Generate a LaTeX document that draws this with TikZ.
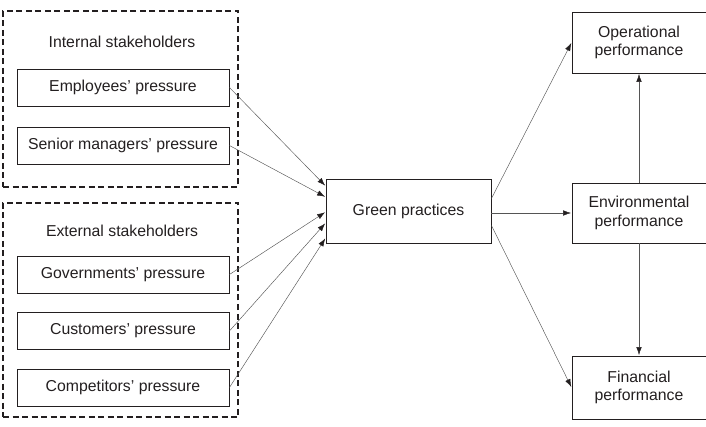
\documentclass[tikz,border=0pt]{standalone}
\usepackage{fontspec}
\setmainfont{Liberation Sans}
\usetikzlibrary{positioning,arrows.meta}
\definecolor{txtgray}{HTML}{231F20}
\definecolor{linegray}{HTML}{555555}

\begin{document}
\begin{tikzpicture}[x=1pt,y=1pt,auto]
    \tikzstyle{every node}=[font=\fontsize{15.8}{18.6}\selectfont,text=txtgray,inner sep=0]
    \tikzstyle{group}=[draw=txtgray,rectangle,line width=1.3pt,dash pattern=on 6pt off 3.5pt]
    \tikzstyle{note}=[draw=none,fill=none]
    \tikzstyle{pbox}=[draw=txtgray,rectangle,line width=0.9pt,minimum width=212,minimum height=37]
    \tikzstyle{rbox}=[draw=txtgray,rectangle,line width=0.9pt,minimum width=134,align=center]
    \tikzstyle{link}=[draw=linegray,line width=0.45pt,-{Latex[length=8pt,width=5.5pt,color=txtgray]},shorten >=0.5pt]
    \useasboundingbox (0,0) rectangle (706,-427);
    {
        % stakeholder groups
        \node[group,minimum width=235,minimum height=176] (internal) at (120.5,-99) {};
        \node[group,minimum width=235,minimum height=214] (external) at (120.5,-310) {};

        \node[note] (labeli) at (122,-42) {Internal stakeholders};
        \node[note] (labele) at (122,-231) {External stakeholders};

        \node[pbox] (emp) at (123,-87.5) {Employees' pressure};
        \node[pbox,node distance=58] (sen) [below of=emp] {Senior managers' pressure};
        \node[pbox] (gov) at (123,-274.5) {Governments' pressure};
        \node[pbox,node distance=56.5] (cus) [below of=gov] {Customers' pressure};
        \node[pbox,node distance=56.5] (com) [below of=cus] {Competitors' pressure};

        \node[draw=txtgray,rectangle,line width=0.9pt,minimum width=165,minimum height=64] (green) at (408.5,-211.5) {Green practices};

        \node[rbox,minimum height=61] (op) at (639,-42.5) {Operational\\performance};
        \node[rbox,minimum height=60] (env) at (639,-213) {Environmental\\performance};
        \node[rbox,minimum height=63] (fin) at (639,-387.5) {Financial\\performance};

        % pressures into green practices
        \draw[link] (emp.east) -- ([yshift=25.5]green.west);
        \draw[link] (sen.east) -- ([yshift=14.5]green.west);
        \draw[link] (gov.east) -- ([yshift=-0.5]green.west);
        \draw[link] (cus.east) -- ([yshift=-11.5]green.west);
        \draw[link] (com.east) -- ([yshift=-26.5]green.west);

        % performance outcomes
        \draw[link] ([yshift=13]green.east) -- (op.west);
        \draw[link] ([yshift=-1.5]green.east) -- (env.west);
        \draw[link] ([yshift=-14]green.east) -- (fin.west);
        \draw[link] (env.north) -- (op.south);
        \draw[link] (env.south) -- (fin.north);
    }
\end{tikzpicture}
\end{document}
